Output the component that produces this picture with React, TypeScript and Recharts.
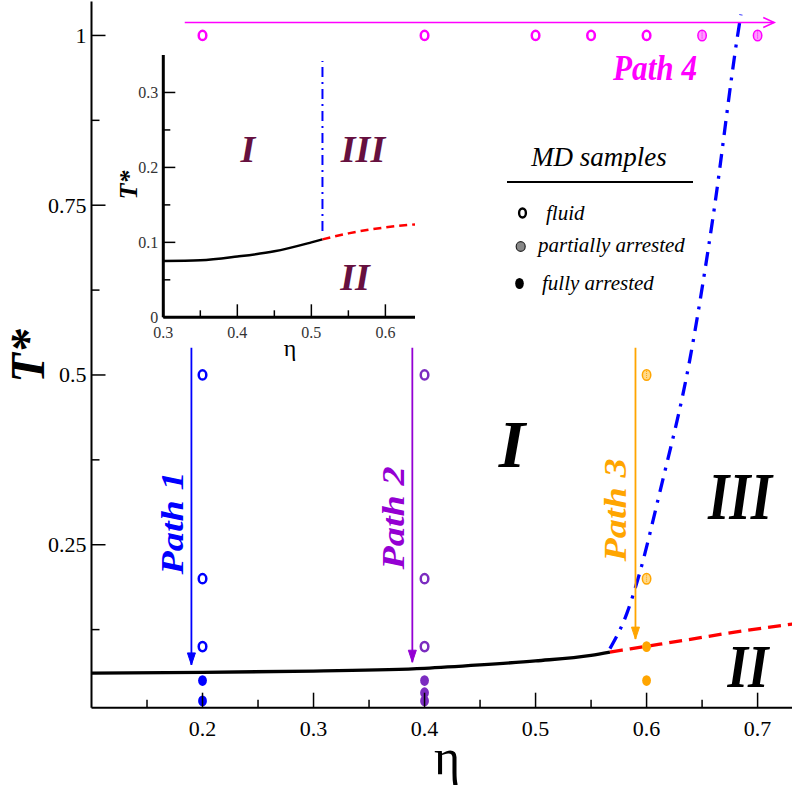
import { ComposedChart, Line, Scatter, XAxis, YAxis } from 'recharts'

// ---- main diagram data (eta = packing fraction, T = reduced temperature) ----
const glassLine = [
  { eta: 0.1, T: 0.061 },
  { eta: 0.2, T: 0.062 },
  { eta: 0.3, T: 0.064 },
  { eta: 0.4, T: 0.068 },
  { eta: 0.45, T: 0.073 },
  { eta: 0.5, T: 0.079 },
  { eta: 0.55, T: 0.087 },
  { eta: 0.567, T: 0.092 },
]
const arrestLine = [
  { eta: 0.567, T: 0.092 },
  { eta: 0.6, T: 0.1005 },
  { eta: 0.633, T: 0.109 },
  { eta: 0.678, T: 0.121 },
  { eta: 0.74, T: 0.135 },
]
const partialLine = [
  { eta: 0.567, T: 0.097 },
  { eta: 0.5825, T: 0.15 },
  { eta: 0.593, T: 0.204 },
  { eta: 0.612, T: 0.328 },
  { eta: 0.639, T: 0.523 },
  { eta: 0.66, T: 0.734 },
  { eta: 0.682, T: 1.0 },
  { eta: 0.685, T: 1.031 },
]

// quench paths (start, end)
const path1 = [{ eta: 0.19, T: 0.54 }, { eta: 0.19, T: 0.073 }]
const path2 = [{ eta: 0.389, T: 0.54 }, { eta: 0.389, T: 0.077 }]
const path3 = [{ eta: 0.59, T: 0.54 }, { eta: 0.59, T: 0.111 }]
const path4 = [{ eta: 0.184, T: 1.019 }, { eta: 0.715, T: 1.019 }]

// MD samples
const p1Fluid = [{ eta: 0.2, T: 0.5 }, { eta: 0.2, T: 0.2 }, { eta: 0.2, T: 0.1 }]
const p1Full = [{ eta: 0.2, T: 0.05 }, { eta: 0.2, T: 0.02 }]
const p2Fluid = [{ eta: 0.4, T: 0.5 }, { eta: 0.4, T: 0.2 }, { eta: 0.4, T: 0.1 }]
const p2Full = [{ eta: 0.4, T: 0.05 }, { eta: 0.4, T: 0.032 }, { eta: 0.4, T: 0.02 }]
const p3Partial = [{ eta: 0.6, T: 0.5 }, { eta: 0.6, T: 0.2 }]
const p3Full = [{ eta: 0.6, T: 0.1 }, { eta: 0.6, T: 0.05 }]
const p4Fluid = [
  { eta: 0.2, T: 1 },
  { eta: 0.4, T: 1 },
  { eta: 0.5, T: 1 },
  { eta: 0.55, T: 1 },
  { eta: 0.6, T: 1 },
]
const p4Partial = [{ eta: 0.65, T: 1 }, { eta: 0.7, T: 1 }]

const mainXMajor = [0.2, 0.3, 0.4, 0.5, 0.6, 0.7]
const mainXMinor = [0.15, 0.25, 0.35, 0.45, 0.55, 0.65]
const mainYMajor = [0.25, 0.5, 0.75, 1]
const mainYMinor = [0.125, 0.375, 0.625, 0.875]

// ---- inset data ----
const insetGlass = [
  { eta: 0.3, T: 0.075 },
  { eta: 0.35, T: 0.076 },
  { eta: 0.4, T: 0.081 },
  { eta: 0.45, T: 0.088 },
  { eta: 0.5, T: 0.1 },
  { eta: 0.515, T: 0.104 },
]
const insetArrest = [
  { eta: 0.515, T: 0.104 },
  { eta: 0.55, T: 0.112 },
  { eta: 0.6, T: 0.12 },
  { eta: 0.64, T: 0.124 },
]
const insetPartial = [{ eta: 0.515, T: 0.115 }, { eta: 0.515, T: 0.342 }]

const insetXMajor = [0.3, 0.4, 0.5, 0.6]
const insetXMinor = [0.35, 0.45, 0.55]
const insetYMajor = [0, 0.1, 0.2, 0.3]
const insetYMinor = [0.05, 0.15, 0.25]

const SERIF = 'Liberation Serif'
const BLUE = '#0000ff'
const PURPLE = '#9400d3'
const PURPLE_PT = '#7b2cc0'
const ORANGE = '#ffa500'
const MAGENTA = '#ff00ff'
const MAROON = '#66103f'

const serif = { fontFamily: SERIF }
const bi = { fontFamily: SERIF, fontWeight: 'bold' as const, fontStyle: 'italic' as const }
const it = { fontFamily: SERIF, fontStyle: 'italic' as const }

type Side = 'bottom' | 'top' | 'left' | 'right'

const makeTick =
  (side: Side, majors: number[], big: number, small: number, label: boolean, fs: number, color: string) =>
  (p: any) => {
    const { x, y, payload } = p
    const v = payload.value
    const major = majors.some((m) => Math.abs(m - v) < 1e-9)
    const len = major ? big : small
    let line
    if (side === 'bottom') line = <line x1={x} y1={y} x2={x} y2={y - len} />
    else if (side === 'top') line = <line x1={x} y1={y} x2={x} y2={y + len} />
    else if (side === 'left') line = <line x1={x} y1={y} x2={x + len} y2={y} />
    else line = <line x1={x} y1={y} x2={x - len} y2={y} />
    let text = null
    if (label && major) {
      if (side === 'bottom')
        text = (
          <text x={x} y={y + fs * 1.3} textAnchor="middle" fontSize={fs} style={serif} fill={color} stroke="none">
            {String(v)}
          </text>
        )
      else if (side === 'left')
        text = (
          <text x={x - 5} y={y + fs * 0.34} textAnchor="end" fontSize={fs} style={serif} fill={color} stroke="none">
            {String(v)}
          </text>
        )
    }
    return (
      <g stroke="#000" strokeWidth={1.5}>
        {line}
        {text}
      </g>
    )
  }

const arrowDot = (color: string, dir: 'down' | 'right') => (p: any) => {
  const { cx, cy, index } = p
  if (index !== 1) return <g key={`a${index}`} />
  if (dir === 'down')
    return (
      <path
        key={`a${index}`}
        d={`M${cx - 4},${cy - 12} L${cx},${cy} L${cx + 4},${cy - 12} Z`}
        fill={color}
        stroke={color}
        strokeWidth={1}
      />
    )
  return (
    <path
      key={`a${index}`}
      d={`M${cx - 11},${cy - 5} L${cx},${cy} L${cx - 11},${cy + 5}`}
      fill="none"
      stroke={color}
      strokeWidth={1.5}
    />
  )
}

const marker = (kind: 'fluid' | 'partial' | 'full', color: string, light?: string) => (p: any) => {
  const { cx, cy } = p
  if (kind === 'fluid')
    return <ellipse cx={cx} cy={cy} rx={3.8} ry={4.6} fill="#fff" stroke={color} strokeWidth={2.5} />
  if (kind === 'full') return <ellipse cx={cx} cy={cy} rx={4.4} ry={5.4} fill={color} stroke="none" />
  return (
    <g>
      <ellipse cx={cx} cy={cy} rx={4.2} ry={5.3} fill={light} stroke={color} strokeWidth={1.5} />
      <line x1={cx} y1={cy - 4} x2={cx} y2={cy + 4} stroke={color} strokeWidth={1} strokeDasharray="1 1" />
    </g>
  )
}

const MainChart = () => (
  <ComposedChart width={802} height={793} margin={{ top: 1.5, right: 0, bottom: 0, left: 0 }}>
    <XAxis
      dataKey="eta"
      type="number"
      domain={[0.1, 0.74]}
      allowDataOverflow
      ticks={[...mainXMajor, ...mainXMinor]}
      interval={0}
      height={85.3}
      tickSize={0}
      tickMargin={0}
      tickLine={false}
      axisLine={{ stroke: '#000', strokeWidth: 2 }}
      tick={makeTick('bottom', mainXMajor, 15, 8, true, 22, '#000')}
    />
    <XAxis
      xAxisId="top"
      orientation="top"
      dataKey="eta"
      type="number"
      domain={[0.1, 0.74]}
      allowDataOverflow
      ticks={[...mainXMajor, ...mainXMinor]}
      interval={0}
      height={0}
      tickSize={0}
      tickMargin={0}
      tickLine={false}
      axisLine={{ stroke: '#000', strokeWidth: 2 }}
      tick={makeTick('top', mainXMajor, 15, 8, false, 22, '#000')}
    />
    <YAxis
      dataKey="T"
      type="number"
      domain={[0.01, 1.05]}
      allowDataOverflow
      ticks={[...mainYMajor, ...mainYMinor]}
      interval={0}
      width={91.5}
      tickSize={0}
      tickMargin={0}
      tickLine={false}
      axisLine={{ stroke: '#000', strokeWidth: 2 }}
      tick={makeTick('left', mainYMajor, 14, 8, true, 22, '#000')}
    />
    <YAxis
      yAxisId="right"
      orientation="right"
      dataKey="T"
      type="number"
      domain={[0.01, 1.05]}
      allowDataOverflow
      ticks={[...mainYMajor, ...mainYMinor]}
      interval={0}
      width={0}
      tickSize={0}
      tickMargin={0}
      tickLine={false}
      axisLine={false}
      tick={makeTick('right', mainYMajor, 14, 8, false, 22, '#000')}
    />

    <Line data={glassLine} dataKey="T" type="monotone" stroke="#000" strokeWidth={3.3} dot={false} isAnimationActive={false} />
    <Line
      data={arrestLine}
      dataKey="T"
      type="monotone"
      stroke="#ff0000"
      strokeWidth={3.3}
      strokeDasharray="13 7"
      dot={false}
      isAnimationActive={false}
    />
    <Line
      data={partialLine}
      dataKey="T"
      type="monotone"
      stroke={BLUE}
      strokeWidth={3.3}
      strokeDasharray="14 8 3 8"
      dot={false}
      isAnimationActive={false}
    />

    <Line data={path1} dataKey="T" stroke={BLUE} strokeWidth={1.8} dot={arrowDot(BLUE, 'down')} isAnimationActive={false} />
    <Line data={path2} dataKey="T" stroke={PURPLE} strokeWidth={1.8} dot={arrowDot(PURPLE, 'down')} isAnimationActive={false} />
    <Line data={path3} dataKey="T" stroke={ORANGE} strokeWidth={1.8} dot={arrowDot(ORANGE, 'down')} isAnimationActive={false} />
    <Line data={path4} dataKey="T" stroke={MAGENTA} strokeWidth={1.5} dot={arrowDot(MAGENTA, 'right')} isAnimationActive={false} />

    <Scatter data={p1Fluid} shape={marker('fluid', BLUE)} isAnimationActive={false} />
    <Scatter data={p1Full} shape={marker('full', BLUE)} isAnimationActive={false} />
    <Scatter data={p2Fluid} shape={marker('fluid', PURPLE_PT)} isAnimationActive={false} />
    <Scatter data={p2Full} shape={marker('full', PURPLE_PT)} isAnimationActive={false} />
    <Scatter data={p3Partial} shape={marker('partial', ORANGE, '#ffd98a')} isAnimationActive={false} />
    <Scatter data={p3Full} shape={marker('full', ORANGE)} isAnimationActive={false} />
    <Scatter data={p4Fluid} shape={marker('fluid', MAGENTA)} isAnimationActive={false} />
    <Scatter data={p4Partial} shape={marker('partial', MAGENTA, '#ff9cff')} isAnimationActive={false} />
  </ComposedChart>
)

const InsetChart = () => (
  <ComposedChart width={310} height={330} margin={{ top: 15, right: 5, bottom: 0, left: 0 }}>
    <XAxis
      dataKey="eta"
      type="number"
      domain={[0.3, 0.64]}
      allowDataOverflow
      ticks={[...insetXMajor, ...insetXMinor]}
      interval={0}
      height={52.7}
      tickSize={0}
      tickMargin={0}
      tickLine={false}
      axisLine={{ stroke: '#000', strokeWidth: 3 }}
      tick={makeTick('bottom', insetXMajor, 13, 7, true, 16, '#333')}
    />
    <XAxis
      xAxisId="top"
      orientation="top"
      dataKey="eta"
      type="number"
      domain={[0.3, 0.64]}
      allowDataOverflow
      ticks={[...insetXMajor, ...insetXMinor]}
      interval={0}
      height={0}
      tickSize={0}
      tickMargin={0}
      tickLine={false}
      axisLine={{ stroke: '#000', strokeWidth: 3 }}
      tick={makeTick('top', insetXMajor, 12, 7, false, 16, '#333')}
    />
    <YAxis
      dataKey="T"
      type="number"
      domain={[0, 0.35]}
      allowDataOverflow
      ticks={[...insetYMajor, ...insetYMinor]}
      interval={0}
      width={53.3}
      tickSize={0}
      tickMargin={0}
      tickLine={false}
      axisLine={{ stroke: '#000', strokeWidth: 3 }}
      tick={makeTick('left', insetYMajor, 12, 7, true, 16, '#333')}
    />
    <YAxis
      yAxisId="right"
      orientation="right"
      dataKey="T"
      type="number"
      domain={[0, 0.35]}
      allowDataOverflow
      ticks={[...insetYMajor, ...insetYMinor]}
      interval={0}
      width={0}
      tickSize={0}
      tickMargin={0}
      tickLine={false}
      axisLine={{ stroke: '#000', strokeWidth: 3 }}
      tick={makeTick('right', insetYMajor, 12, 7, false, 16, '#333')}
    />
    <Line data={insetGlass} dataKey="T" type="monotone" stroke="#000" strokeWidth={2.5} dot={false} isAnimationActive={false} />
    <Line
      data={insetArrest}
      dataKey="T"
      type="monotone"
      stroke="#ff0000"
      strokeWidth={2.5}
      strokeDasharray="8 5"
      dot={false}
      isAnimationActive={false}
    />
    <Line
      data={insetPartial}
      dataKey="T"
      stroke={BLUE}
      strokeWidth={2}
      strokeDasharray="10 5 2 5"
      dot={false}
      isAnimationActive={false}
    />
  </ComposedChart>
)

const Annotations = () => (
  <svg width={792} height={793} style={{ position: 'absolute', left: 0, top: 0, pointerEvents: 'none' }}>
    {/* axis titles */}
    <text x={44} y={356} transform="rotate(-90 44 356)" textAnchor="middle" fontSize={48} style={bi}>
      T*
    </text>
    <text x={447} y={774} textAnchor="middle" fontSize={50} style={serif}>
      η
    </text>

    {/* regions */}
    <text x={512} y={467} textAnchor="middle" fontSize={68} style={bi}>
      I
    </text>
    <text x={740} y={519} textAnchor="middle" fontSize={68} textLength={64} lengthAdjust="spacingAndGlyphs" style={bi}>
      III
    </text>
    <text x={748} y={687} textAnchor="middle" fontSize={62} textLength={41} lengthAdjust="spacingAndGlyphs" style={bi}>
      II
    </text>

    {/* path labels */}
    <text x={183} y={523} transform="rotate(-90 183 523)" textAnchor="middle" fontSize={32} textLength={103} lengthAdjust="spacingAndGlyphs" fill={BLUE} style={bi}>
      Path 1
    </text>
    <text x={404} y={518} transform="rotate(-90 404 518)" textAnchor="middle" fontSize={32} textLength={103} lengthAdjust="spacingAndGlyphs" fill={PURPLE} style={bi}>
      Path 2
    </text>
    <text x={626} y={510} transform="rotate(-90 626 510)" textAnchor="middle" fontSize={32} textLength={103} lengthAdjust="spacingAndGlyphs" fill={ORANGE} style={bi}>
      Path 3
    </text>
    <text x={655} y={80} textAnchor="middle" fontSize={36} textLength={84} lengthAdjust="spacingAndGlyphs" fill={MAGENTA} style={bi}>
      Path 4
    </text>

    {/* legend */}
    <text x={599} y={166} textAnchor="middle" fontSize={27} style={it}>
      MD samples
    </text>
    <line x1={507} y1={182} x2={693} y2={182} stroke="#000" strokeWidth={2.2} />
    <ellipse cx={522.5} cy={213} rx={3.4} ry={4.5} fill="#fff" stroke="#000" strokeWidth={2.4} />
    <text x={546} y={220} fontSize={21} style={it}>
      fluid
    </text>
    <ellipse cx={520.7} cy={246.5} rx={4.5} ry={4.8} fill="#888" stroke="#222" strokeWidth={1.2} />
    <text x={538} y={252} fontSize={21} style={it}>
      partially arrested
    </text>
    <ellipse cx={519.5} cy={283.5} rx={4.3} ry={5.5} fill="#000" />
    <text x={542} y={290} fontSize={21} style={it}>
      fully arrested
    </text>

    {/* inset labels */}
    <text x={137} y={185} transform="rotate(-90 137 185)" textAnchor="middle" fontSize={26} style={bi}>
      T*
    </text>
    <text x={290} y={356} textAnchor="middle" fontSize={24} style={serif}>
      η
    </text>
    <text x={248} y={162} textAnchor="middle" fontSize={38} fill={MAROON} style={bi}>
      I
    </text>
    <text x={363} y={162} textAnchor="middle" fontSize={38} fill={MAROON} style={bi}>
      III
    </text>
    <text x={355} y={290} textAnchor="middle" fontSize={38} fill={MAROON} style={bi}>
      II
    </text>
  </svg>
)

export default function App() {
  return (
    <div
      style={{
        position: 'absolute',
        left: 0,
        top: 0,
        width: 792,
        height: 793,
        overflow: 'hidden',
        background: '#fff',
        fontFamily: SERIF,
      }}
    >
      <div style={{ position: 'absolute', left: 0, top: 0 }}>
        <MainChart />
      </div>
      <div style={{ position: 'absolute', left: 110, top: 40 }}>
        <InsetChart />
      </div>
      <Annotations />
    </div>
  )
}
